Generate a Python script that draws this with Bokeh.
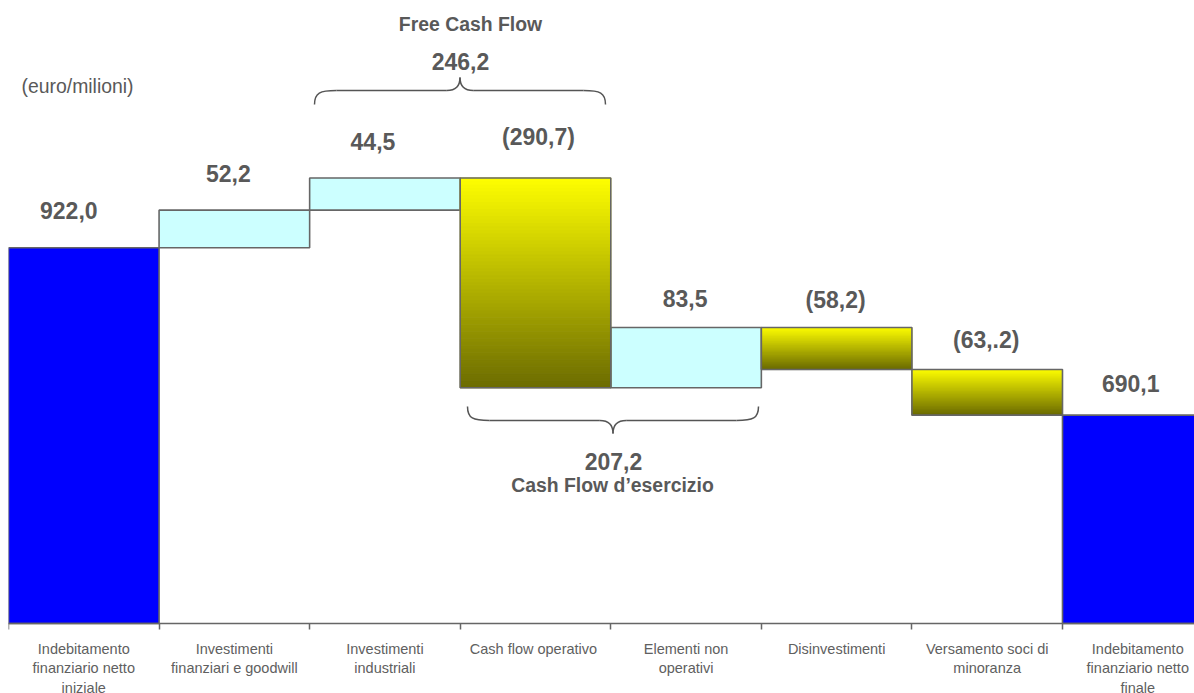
from bokeh.plotting import figure
from bokeh.models import Range1d, FixedTicker, ColumnDataSource
from bokeh.core.properties import value
from bokeh.embed import file_html
from bokeh.resources import INLINE
import numpy as np

# ---------------- data ----------------
categories = [
    "Indebitamento\nfinanziario netto\niniziale",
    "Investimenti\nfinanziari e goodwill",
    "Investimenti\nindustriali",
    "Cash flow  operativo",
    "Elementi non\noperativi",
    "Disinvestimenti",
    "Versamento soci di\nminoranza",
    "Indebitamento\nfinanziario netto\nfinale",
]
values = [922.0, 52.2, 44.5, -290.7, 83.5, -58.2, -63.2, 690.1]
kinds = ["total", "inc", "inc", "dec", "inc", "dec", "dec", "total"]
value_labels = ["922,0", "52,2", "44,5", "(290,7)", "83,5", "(58,2)", "(63,.2)", "690,1"]
free_cash_flow = "246,2"
cash_flow_esercizio = "207,2"

# ---------------- layout helpers ----------------
W, H = 1194, 693
LEFT = 8
AXIS_PX = 623          # pixel row of the category axis
cat_w = 150.57
base = 401.3           # value at the axis line
per_px = 1.386
y_start = base - (H - AXIS_PX) * per_px
y_end = base + AXIS_PX * per_px
x_end = (W - LEFT) / cat_w

def X(px):
    return (px - LEFT) / cat_w

def Y(px):
    return base + (AXIS_PX - px) * per_px

FONT = "Liberation Sans"
TXT = "#595959"
EDGE = "#666666"

# ---------------- waterfall geometry ----------------
bottoms, tops = [], []
level = 0.0
for v, k in zip(values, kinds):
    if k == "total":
        bottoms.append(base)
        tops.append(v)
        level = v
    else:
        new = level + v
        bottoms.append(min(level, new))
        tops.append(max(level, new))
        level = new

p = figure(width=W, height=H, output_backend="svg", toolbar_location=None,
           x_range=Range1d(0, x_end), y_range=Range1d(y_start, y_end),
           min_border_left=LEFT, min_border_right=0, min_border_top=0,
           min_border_bottom=0)
p.outline_line_color = None
p.grid.visible = False
p.yaxis.visible = False
p.background_fill_color = "white"
p.border_fill_color = "white"

colors = {"total": "#0000FF", "inc": "#CCFFFF"}
plain = [i for i, k in enumerate(kinds) if k != "dec"]
src = ColumnDataSource(dict(
    left=[i for i in plain], right=[i + 1 for i in plain],
    bottom=[bottoms[i] for i in plain], top=[tops[i] for i in plain],
    color=[colors[kinds[i]] for i in plain]))
p.quad(left="left", right="right", bottom="bottom", top="top", source=src,
       fill_color="color", line_color=EDGE, line_width=1.6)

# gradient bars
n = 60
c_top = np.array([255, 255, 0])
c_bot = np.array([108, 108, 0])
gl, gr, gb, gt, gc = [], [], [], [], []
dec = [i for i, k in enumerate(kinds) if k == "dec"]
for i in dec:
    edges = np.linspace(tops[i], bottoms[i], n + 1)
    for j in range(n):
        t = (j + 0.5) / n
        c = (c_top * (1 - t) + c_bot * t).astype(int)
        gl.append(i); gr.append(i + 1)
        gt.append(edges[j]); gb.append(edges[j + 1])
        gc.append("#%02x%02x%02x" % tuple(c))
p.quad(left=gl, right=gr, bottom=gb, top=gt, fill_color=gc, line_color=gc, line_width=1)
p.quad(left=[i for i in dec], right=[i + 1 for i in dec],
       bottom=[bottoms[i] for i in dec], top=[tops[i] for i in dec],
       fill_color=None, line_color=EDGE, line_width=1.6)

# value labels
y_offsets = [-37, -37, -37, -41, -29, -28, -30, -32]
x_offsets = [-15, -6, -12, 3, -1, -1, -1, -7]
lbl = ColumnDataSource(dict(x=[i + 0.5 + x_offsets[i] / cat_w for i in range(len(values))],
                            y=[tops[i] - y_offsets[i] * per_px for i in range(len(values))],
                            t=value_labels))
p.text(x="x", y="y", text="t", source=lbl, text_align="center", text_baseline="middle",
       text_font=value(FONT), text_font_style="bold", text_font_size="23px", text_color=TXT)

# braces
def brace(xl, xr, y_end_, y_mid, y_tip, r):
    xc = (xl + xr) / 2
    p.bezier(x0=[xl, xr], y0=[y_end_, y_end_], x1=[xl + r, xr - r], y1=[y_mid, y_mid],
             cx0=[xl, xr], cy0=[y_mid + (y_end_ - y_mid) * 0.15, y_mid + (y_end_ - y_mid) * 0.15],
             cx1=[xl + r * 0.25, xr - r * 0.25], cy1=[y_mid, y_mid],
             line_color="#555555", line_width=1.5)
    p.segment(x0=[xl + r, xc + r * 0.6], y0=[y_mid, y_mid], x1=[xc - r * 0.6, xr - r],
              y1=[y_mid, y_mid], line_color="#555555", line_width=1.5)
    p.bezier(x0=[xc - r * 0.6, xc + r * 0.6], y0=[y_mid, y_mid], x1=[xc, xc], y1=[y_tip, y_tip],
             cx0=[xc - r * 0.1, xc + r * 0.1], cy0=[y_mid, y_mid],
             cx1=[xc, xc], cy1=[y_mid + (y_tip - y_mid) * 0.5, y_mid + (y_tip - y_mid) * 0.5],
             line_color="#555555", line_width=1.5)

brace(X(314), X(605), Y(104), Y(90), Y(77), X(336) - X(314))
brace(X(467), X(758), Y(406), Y(420), Y(433), X(336) - X(314))

def txt(xp, yp, s, size, bold=True, align="center"):
    p.text(x=[X(xp)], y=[Y(yp)], text=[s], text_align=align, text_baseline="middle",
           text_font=value(FONT), text_font_style="bold" if bold else "normal",
           text_font_size=size, text_color=TXT)

txt(470, 23, "Free Cash Flow", "19.4px")
txt(460, 61, free_cash_flow, "23px")
txt(613, 461, cash_flow_esercizio, "23px")
txt(612, 484, "Cash Flow d\u2019esercizio", "19.4px")
txt(21, 85, "(euro/milioni)", "19.4px", bold=False, align="left")

# x axis, drawn at the base value of the waterfall
ax = p.xaxis[0]
ax.fixed_location = base
ax.ticker = FixedTicker(ticks=[i + 0.5 for i in range(len(categories))],
                        minor_ticks=list(range(len(categories) + 1)))
ax.major_label_overrides = {i + 0.5: c for i, c in enumerate(categories)}
ax.major_tick_out = 0
ax.major_tick_in = 0
ax.minor_tick_out = 6
ax.minor_tick_in = 0
ax.minor_tick_line_color = EDGE
ax.minor_tick_line_width = 1.5
ax.axis_line_color = EDGE
ax.axis_line_width = 1.5
ax.major_label_standoff = 11
ax.major_label_text_font = FONT
ax.major_label_text_font_size = "14.5px"
ax.major_label_text_color = "#606060"
ax.major_label_text_line_height = 1.23

open("out.html", "w").write(file_html(p, INLINE))
